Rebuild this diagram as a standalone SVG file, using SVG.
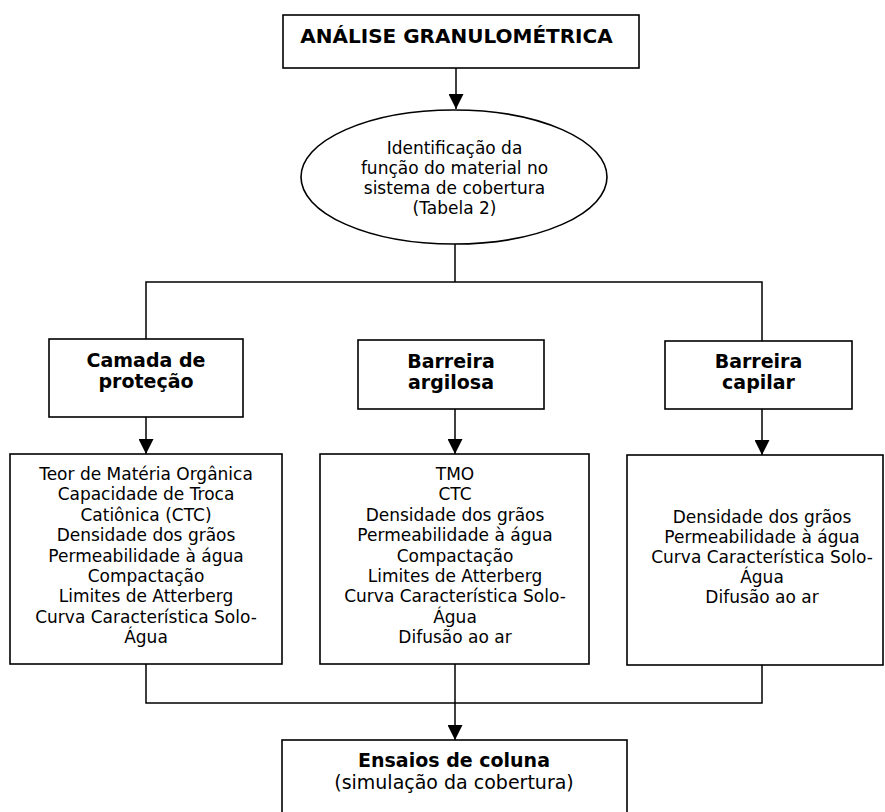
<svg xmlns="http://www.w3.org/2000/svg" width="885" height="812" viewBox="0 0 885 812">
  <style>
    .box { fill: #ffffff; stroke: #000000; stroke-width: 1.6; }
    .wire { fill: none; stroke: #000000; stroke-width: 1.5; }
    .t { font-family: "DejaVu Sans", Verdana, sans-serif; font-size: 17px; fill: #000000; text-anchor: middle; }
    .b { font-family: "DejaVu Sans", Verdana, sans-serif; font-size: 19px; font-weight: bold; fill: #000000; text-anchor: middle; }
  </style>
  <defs>
    <marker id="arrow" markerUnits="userSpaceOnUse" markerWidth="15" markerHeight="15" viewBox="0 0 15 15" refX="15" refY="7.5" orient="auto">
      <path d="M0,0 L15,7.5 L0,15 Z" fill="#000000"/>
    </marker>
  </defs>
  <rect width="885" height="812" fill="#ffffff"/>

  <!-- connectors -->
  <g id="connectors">
    <path class="wire" d="M456,68 V109" marker-end="url(#arrow)"/>
    <path class="wire" d="M455,244 V282"/>
    <path class="wire" d="M146,339 V282 H762 V341"/>
    <path class="wire" d="M146,417 V454" marker-end="url(#arrow)"/>
    <path class="wire" d="M455,409 V454" marker-end="url(#arrow)"/>
    <path class="wire" d="M762,409 V455" marker-end="url(#arrow)"/>
    <path class="wire" d="M146,664 V703 H762 V665"/>
    <path class="wire" d="M455,664 V740" marker-end="url(#arrow)"/>
  </g>

  <g id="analise">
    <rect class="box" x="283" y="15" width="356" height="53"/>
    <text class="b" x="456.5" y="43" style="font-size:20px">ANÁLISE GRANULOMÉTRICA</text>
  </g>

  <g id="identificacao">
    <ellipse class="box" cx="454" cy="177" rx="153" ry="67"/>
    <text class="t" x="454.5" y="154">Identificação da</text>
    <text class="t" x="454.5" y="174">função do material no</text>
    <text class="t" x="454.5" y="194">sistema de cobertura</text>
    <text class="t" x="454.5" y="214">(Tabela 2)</text>
  </g>

  <g id="camada">
    <rect class="box" x="49" y="339" width="194" height="78"/>
    <text class="b" x="146" y="367">Camada de</text>
    <text class="b" x="146" y="388">proteção</text>
  </g>

  <g id="argilosa">
    <rect class="box" x="358" y="340" width="186" height="69"/>
    <text class="b" x="451" y="368">Barreira</text>
    <text class="b" x="451" y="389">argilosa</text>
  </g>

  <g id="capilar">
    <rect class="box" x="665" y="341" width="187" height="68"/>
    <text class="b" x="758.5" y="368">Barreira</text>
    <text class="b" x="758.5" y="389">capilar</text>
  </g>

  <g id="ensaios-camada">
    <rect class="box" x="10" y="454" width="272" height="210"/>
    <text class="t" x="146" y="480">Teor de Matéria Orgânica</text>
    <text class="t" x="146" y="500.4">Capacidade de Troca</text>
    <text class="t" x="146" y="520.8">Catiônica (CTC)</text>
    <text class="t" x="146" y="541.2">Densidade dos grãos</text>
    <text class="t" x="146" y="561.6">Permeabilidade à água</text>
    <text class="t" x="146" y="582">Compactação</text>
    <text class="t" x="146" y="602.4">Limites de Atterberg</text>
    <text class="t" x="146" y="622.8">Curva Característica Solo-</text>
    <text class="t" x="146" y="643.2">Água</text>
  </g>

  <g id="ensaios-argilosa">
    <rect class="box" x="320" y="454" width="269" height="210"/>
    <text class="t" x="455" y="480">TMO</text>
    <text class="t" x="455" y="500.4">CTC</text>
    <text class="t" x="455" y="520.8">Densidade dos grãos</text>
    <text class="t" x="455" y="541.2">Permeabilidade à água</text>
    <text class="t" x="455" y="561.6">Compactação</text>
    <text class="t" x="455" y="582">Limites de Atterberg</text>
    <text class="t" x="455" y="602.4">Curva Característica Solo-</text>
    <text class="t" x="455" y="622.8">Água</text>
    <text class="t" x="455" y="643.2">Difusão ao ar</text>
  </g>

  <g id="ensaios-capilar">
    <rect class="box" x="627" y="455" width="256" height="210"/>
    <text class="t" x="762" y="523">Densidade dos grãos</text>
    <text class="t" x="762" y="543">Permeabilidade à água</text>
    <text class="t" x="762" y="563">Curva Característica Solo-</text>
    <text class="t" x="762" y="583">Água</text>
    <text class="t" x="762" y="603">Difusão ao ar</text>
  </g>

  <g id="coluna">
    <rect class="box" x="282" y="740" width="345" height="90"/>
    <text class="b" x="454" y="767">Ensaios de coluna</text>
    <text class="t" x="454" y="789" style="font-size:19px">(simulação da cobertura)</text>
  </g>
</svg>
